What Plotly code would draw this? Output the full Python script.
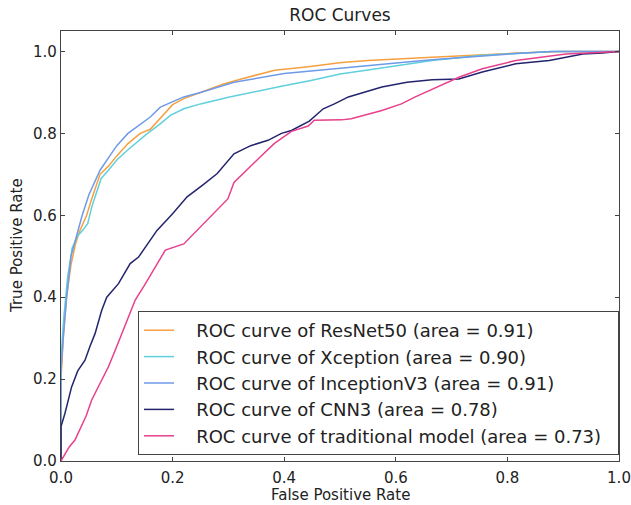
import plotly.graph_objects as go

# ---- data ----
resnet_fpr = [0, 0, 0.004, 0.01, 0.018, 0.026, 0.033, 0.04, 0.046, 0.055, 0.062, 0.07, 0.085, 0.1, 0.12, 0.142,
              0.16, 0.18, 0.2, 0.22, 0.25, 0.29, 0.323, 0.383, 0.443, 0.503, 0.55, 0.6, 0.665, 0.73, 0.815, 0.9, 1.0]
resnet_tpr = [0, 0.2, 0.3, 0.4, 0.48, 0.53, 0.56, 0.58, 0.6, 0.64, 0.67, 0.7, 0.72, 0.745, 0.775, 0.8,
              0.81, 0.84, 0.87, 0.885, 0.9, 0.92, 0.933, 0.954, 0.963, 0.973, 0.978, 0.982, 0.986, 0.99, 0.996, 1.0, 1.0]

xception_fpr = [0, 0, 0.005, 0.012, 0.02, 0.03, 0.04, 0.048, 0.055, 0.065, 0.072, 0.085, 0.1, 0.12, 0.155, 0.175,
                0.196, 0.22, 0.25, 0.3, 0.34, 0.395, 0.45, 0.5, 0.55, 0.6, 0.665, 0.75, 0.82, 0.88, 1.0]
xception_tpr = [0, 0.25, 0.35, 0.45, 0.52, 0.55, 0.565, 0.58, 0.62, 0.66, 0.69, 0.71, 0.735, 0.76, 0.8, 0.82,
                0.844, 0.86, 0.872, 0.888, 0.9, 0.915, 0.93, 0.945, 0.955, 0.965, 0.978, 0.99, 0.996, 1.0, 1.0]

inception_fpr = [0, 0, 0.004, 0.01, 0.018, 0.028, 0.038, 0.05, 0.06, 0.07, 0.085, 0.1, 0.12, 0.14, 0.16, 0.178,
                 0.22, 0.25, 0.31, 0.4, 0.45, 0.52, 0.57, 0.62, 0.665, 0.73, 0.815, 0.88, 1.0]
inception_tpr = [0, 0.22, 0.3, 0.4, 0.5, 0.55, 0.6, 0.65, 0.68, 0.71, 0.74, 0.77, 0.8, 0.82, 0.84, 0.864,
                 0.889, 0.9, 0.925, 0.946, 0.952, 0.962, 0.968, 0.974, 0.98, 0.987, 0.995, 1.0, 1.0]

cnn3_fpr = [0, 0, 0.007, 0.019, 0.03, 0.043, 0.052, 0.061, 0.073, 0.082, 0.103, 0.124, 0.139, 0.155, 0.172, 0.2,
            0.226, 0.255, 0.28, 0.31, 0.34, 0.371, 0.395, 0.413, 0.445, 0.47, 0.49, 0.515, 0.575, 0.62, 0.665,
            0.713, 0.755, 0.815, 0.875, 0.935, 0.97, 1.0]
cnn3_tpr = [0, 0.084, 0.116, 0.181, 0.22, 0.246, 0.28, 0.311, 0.368, 0.4, 0.433, 0.482, 0.498, 0.53, 0.563, 0.604,
            0.645, 0.675, 0.702, 0.75, 0.77, 0.783, 0.8, 0.807, 0.83, 0.86, 0.872, 0.889, 0.913, 0.925, 0.931,
            0.933, 0.95, 0.97, 0.978, 0.994, 0.996, 1.0]

trad_fpr = [0, 0.004, 0.015, 0.025, 0.034, 0.045, 0.055, 0.07, 0.085, 0.097, 0.109, 0.12, 0.133, 0.15, 0.169, 0.187,
            0.22, 0.244, 0.27, 0.299, 0.31, 0.328, 0.355, 0.382, 0.413, 0.443, 0.454, 0.503, 0.52, 0.575, 0.61,
            0.635, 0.713, 0.755, 0.815, 0.905, 0.96, 1.0]
trad_tpr = [0, 0.01, 0.035, 0.051, 0.076, 0.11, 0.149, 0.19, 0.23, 0.27, 0.311, 0.35, 0.393, 0.43, 0.474, 0.515,
            0.53, 0.563, 0.6, 0.64, 0.68, 0.705, 0.74, 0.775, 0.805, 0.818, 0.832, 0.833, 0.836, 0.856, 0.872,
            0.889, 0.937, 0.958, 0.978, 0.994, 0.997, 1.0]

names = ["ROC curve of ResNet50 (area = 0.91)",
         "ROC curve of Xception (area = 0.90)",
         "ROC curve of InceptionV3 (area = 0.91)",
         "ROC curve of CNN3 (area = 0.78)",
         "ROC curve of traditional model (area = 0.73)"]
colors = ["#f6a040", "#5fd0dc", "#6e9ae8", "#23246e", "#e8408c"]
series = [(resnet_fpr, resnet_tpr), (xception_fpr, xception_tpr), (inception_fpr, inception_tpr),
          (cnn3_fpr, cnn3_tpr), (trad_fpr, trad_tpr)]
x_ticks = [0.0, 0.2, 0.4, 0.6, 0.8, 1.0]
y_ticks = [0.0, 0.2, 0.4, 0.6, 0.8, 1.0]

FONT = "DejaVu Sans"
W, H = 631, 505
ML, MR, MT, MB = 61, 12, 31, 44
PH = H - MT - MB
PW = W - ML - MR
NB = "\u00a0"

fig = go.Figure()
for (xs, ys), name, col in zip(series, names, colors):
    fig.add_trace(go.Scatter(x=xs, y=ys, mode="lines", name=NB * 3 + name + NB * 2,
                             line=dict(color=col, width=1.5)))

axis_common = dict(showline=True, mirror="ticks", linecolor="#444", linewidth=1.2,
                   ticks="inside", ticklen=4, tickcolor="#444", showgrid=False, zeroline=False,
                   automargin=False,
                   tickfont=dict(family=FONT, size=15, color="#222"))
fig.update_xaxes(range=[0, 1.0], tickvals=x_ticks, ticktext=[f"{v:.1f}" for v in x_ticks],
                 ticklabelstandoff=3, **axis_common)
fig.update_yaxes(range=[0, 1.05], tickvals=y_ticks, ticktext=[f"{v:.1f}" for v in y_ticks], **axis_common)

fig.add_annotation(text="False Positive Rate", xref="paper", yref="paper",
                   x=0.5, y=-(495 - (H - MB)) / PH, xanchor="center", yanchor="middle",
                   showarrow=False, font=dict(family=FONT, size=15, color="#222"))
fig.add_annotation(text="True Positive Rate", xref="paper", yref="paper",
                   x=-(ML - 17) / PW, y=0.5, xanchor="center", yanchor="middle", textangle=-90,
                   showarrow=False, font=dict(family=FONT, size=15, color="#222"))

fig.update_layout(
    width=W, height=H,
    margin=dict(l=ML, r=MR, t=MT, b=MB),
    paper_bgcolor="white", plot_bgcolor="white",
    title=dict(text="ROC Curves", x=(ML + PW / 2) / W, xanchor="center", y=1 - 15 / H, yanchor="middle",
               font=dict(family=FONT, size=17, color="#222")),
    legend=dict(x=1.0, xanchor="right", y=(H - MB - 455) / PH, yanchor="bottom",
                bordercolor="#444", borderwidth=1, bgcolor="white",
                font=dict(family=FONT, size=18, color="#222"),
                itemwidth=30, tracegroupgap=0),
    showlegend=True,
)
fig.write_html("out.html", config={"displayModeBar": False},
               post_script="document.body.style.margin='0px';")
